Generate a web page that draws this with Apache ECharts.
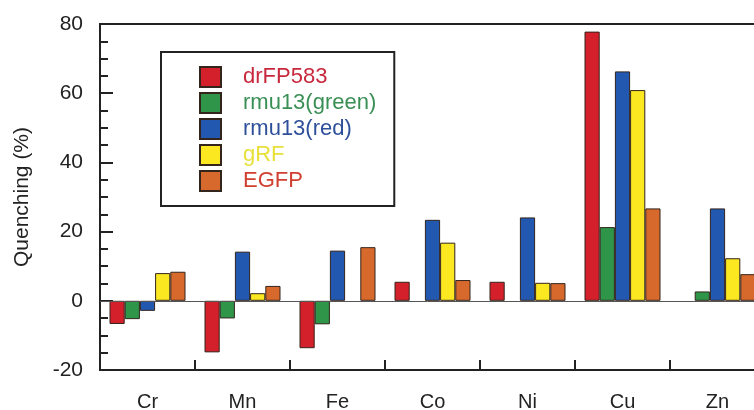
<!DOCTYPE html>
<html>
<head>
<meta charset="utf-8">
<script src="https://cdn.jsdelivr.net/npm/echarts@6/dist/echarts.min.js"></script>
<style>
  html, body { margin: 0; padding: 0; background: #fff; }
  #chart { width: 754px; height: 410px; }
</style>
</head>
<body>
<div id="chart"></div>
<script>
// Metal ions tested
var categories = ['Cr', 'Mn', 'Fe', 'Co', 'Ni', 'Cu', 'Zn'];

// Quenching (%) per protein; null = not measured
var drFP583    = [-6.7, -14.9, -13.7, 5.5, 5.5, 77.8, null];
var rmu13Green = [-5.3, -5.1, -6.8, null, null, 21.3, 2.7];
var rmu13Red   = [-2.9, 14.2, 14.5, 23.4, 24.1, 66.3, 26.7];
var gRF        = [8.0, 2.2, null, 16.8, 5.2, 60.9, 12.3];
var EGFP       = [8.4, 4.3, 15.5, 6.0, 5.1, 26.7, 7.7];

var yTicks = { min: -20, max: 80, step: 20 };

var FONT = 'Liberation Sans, Arial, sans-serif';

var seriesDefs = [
  { name: 'drFP583',      data: drFP583,    fill: '#d4202a', text: '#c8283c' },
  { name: 'rmu13(green)', data: rmu13Green, fill: '#2e9549', text: '#3a8f55' },
  { name: 'rmu13(red)',   data: rmu13Red,   fill: '#2358b0', text: '#2e4f9a' },
  { name: 'gRF',          data: gRF,        fill: '#fce820', text: '#e8e03a' },
  { name: 'EGFP',         data: EGFP,       fill: '#d8692c', text: '#d04030' }
];

var series = seriesDefs.map(function (s, i) {
  var o = {
    name: s.name,
    type: 'bar',
    data: s.data.map(function (v) { return v === null ? '-' : v; }),
    barGap: '0%',
    barCategoryGap: '20%',
    itemStyle: { color: s.fill, borderColor: '#33241c', borderWidth: 1 },
    emphasis: { disabled: true }
  };
  if (i === 0) {
    // baseline at zero
    o.markLine = {
      silent: true,
      symbol: 'none',
      label: { show: false },
      lineStyle: { color: '#555', width: 1, type: 'solid' },
      data: [{ yAxis: 0 }]
    };
  }
  return o;
});

var chart = echarts.init(document.getElementById('chart'), null, { renderer: 'canvas' });
chart.setOption({
  animation: false,
  backgroundColor: '#fff',
  grid: {
    left: 100, top: 24, width: 665, height: 346,
    outerBoundsMode: 'none',
    containLabel: false,
    show: true, borderColor: '#222', borderWidth: 2, backgroundColor: 'transparent'
  },
  legend: {
    orient: 'vertical',
    left: 161, top: 52,
    padding: [14, 18, 14, 38],
    itemGap: 4,
    itemWidth: 21, itemHeight: 20,
    icon: 'rect',
    borderColor: '#222', borderWidth: 2,
    backgroundColor: '#fff',
    textStyle: { fontFamily: FONT, fontSize: 22, lineHeight: 22, padding: [0, 0, 0, 17] },
    data: seriesDefs.map(function (s) {
      return { name: s.name, textStyle: { color: s.text } };
    })
  },
  xAxis: {
    type: 'category',
    data: categories,
    axisLine: { onZero: false, lineStyle: { color: '#222', width: 2 } },
    axisTick: { show: true, inside: true, length: 10, lineStyle: { color: '#222', width: 2 } },
    axisLabel: { fontFamily: FONT, fontSize: 20, color: '#222', margin: 22 },
    splitLine: { show: false }
  },
  yAxis: {
    type: 'value',
    min: yTicks.min, max: yTicks.max, interval: yTicks.step,
    name: 'Quenching (%)',
    nameLocation: 'middle',
    nameGap: 67,
    nameTextStyle: { fontFamily: FONT, fontSize: 21, color: '#222' },
    axisLine: { show: true, lineStyle: { color: '#222', width: 2 } },
    axisTick: { show: true, inside: true, length: 13, lineStyle: { color: '#222', width: 2 } },
    minorTick: { show: true, splitNumber: 4, length: 8, lineStyle: { color: '#222', width: 2 } },
    axisLabel: { fontFamily: FONT, fontSize: 21, color: '#222', margin: 17 },
    splitLine: { show: false }
  },
  series: series
});
</script>
</body>
</html>
